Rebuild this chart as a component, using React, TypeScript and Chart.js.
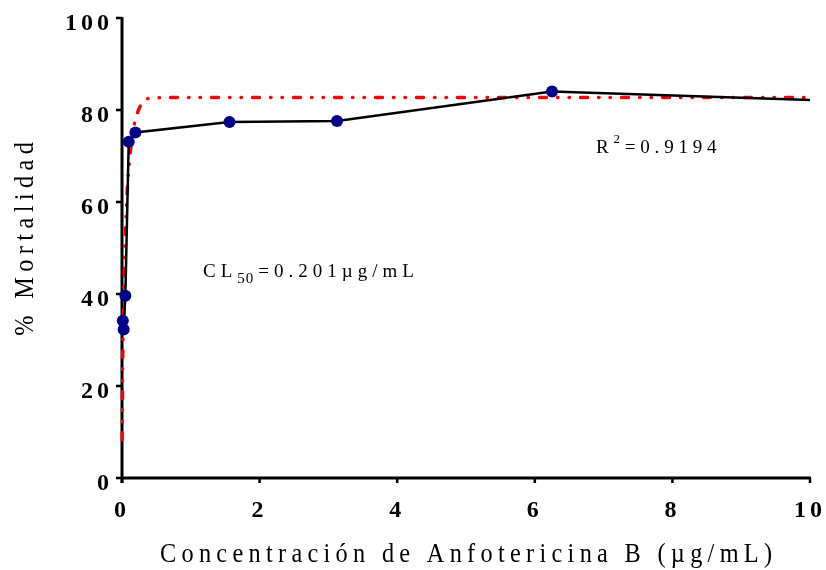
import React, { useEffect, useRef } from 'react';
import { Chart, registerables } from 'chart.js';

Chart.register(...registerables);

// Observed mortality (%) at each concentration (µg/mL)
const concentrations = [0.0122, 0.0244, 0.0488, 0.0977, 0.195, 1.5625, 3.125, 6.25, 12.5];
const mortality = [34.2, 32.3, 39.6, 73.1, 75.1, 77.4, 77.6, 84.0, 81.0];

// Fitted dose-response curve
const fitX = [0.003, 0.006, 0.01, 0.015, 0.02, 0.03, 0.048, 0.068, 0.085, 0.106, 0.14, 0.18, 0.24, 0.33, 0.45, 0.7, 2, 5, 10];
const fitY = [8.3, 16, 25, 32, 37, 44, 52, 60, 64.5, 68.5, 73.5, 77, 80, 82.2, 82.6, 82.7, 82.7, 82.7, 82.7];

const xTicks = [0, 2, 4, 6, 8, 10];
const yTicks = [0, 20, 40, 60, 80, 100];

const xTitle = 'Concentración de Anfotericina B (µg/mL)';
const yTitle = '% Mortalidad';
const lc50Parts = [
  { text: 'CL', kind: 'normal' },
  { text: '50', kind: 'sub' },
  { text: '=0.201µg/mL', kind: 'normal' },
];
const r2Parts = [
  { text: 'R', kind: 'normal' },
  { text: '2', kind: 'sup' },
  { text: '=0.9194', kind: 'normal' },
];

const SERIF = '"Liberation Serif", "Times New Roman", serif';

function drawSpaced(
  ctx: CanvasRenderingContext2D,
  text: string,
  x: number,
  y: number,
  align: 'left' | 'center' | 'right',
  spacing: number,
  sx: number = 1
) {
  const chars = Array.from(text);
  let total = 0;
  for (const ch of chars) total += ctx.measureText(ch).width * sx;
  total += spacing * Math.max(0, chars.length - 1);
  let cx = align === 'left' ? x : align === 'center' ? x - total / 2 : x - total;
  ctx.textAlign = 'left';
  for (const ch of chars) {
    ctx.save();
    ctx.translate(cx, y);
    ctx.scale(sx, 1);
    ctx.fillText(ch, 0, 0);
    ctx.restore();
    cx += ctx.measureText(ch).width * sx + spacing;
  }
}

function drawRich(
  ctx: CanvasRenderingContext2D,
  parts: { text: string; kind: string }[],
  x: number,
  y: number,
  sizes: { normal: number; small: number; subDy: number; supDy: number },
  spacing: number,
  smallSpacing: number
) {
  let cx = x;
  ctx.textBaseline = 'alphabetic';
  ctx.textAlign = 'left';
  for (const p of parts) {
    const isSmall = p.kind !== 'normal';
    const size = isSmall ? sizes.small : sizes.normal;
    const dy = p.kind === 'sub' ? sizes.subDy : p.kind === 'sup' ? sizes.supDy : 0;
    ctx.font = `${size}px ${SERIF}`;
    const chars = Array.from(p.text);
    chars.forEach((ch, i) => {
      ctx.fillText(ch, cx, y + dy);
      cx += ctx.measureText(ch).width + (isSmall && i < chars.length - 1 ? smallSpacing : spacing);
    });
  }
}

const decorPlugin = {
  id: 'decor',
  beforeDatasetsDraw(chart: any) {
    const ctx: CanvasRenderingContext2D = chart.ctx;
    const xs = chart.scales.x;
    const ys = chart.scales.y;
    const x0 = xs.getPixelForValue(0);
    const y0 = ys.getPixelForValue(0);
    ctx.save();
    ctx.strokeStyle = '#000';
    ctx.lineWidth = 3;
    ctx.lineCap = 'butt';
    ctx.beginPath();
    ctx.moveTo(x0, ys.getPixelForValue(100) - 1);
    ctx.lineTo(x0, y0 + 5);
    ctx.moveTo(x0 - 1.5, y0);
    ctx.lineTo(xs.getPixelForValue(10) + 1, y0);
    ctx.stroke();
    ctx.lineWidth = 2.5;
    ctx.beginPath();
    for (const v of yTicks) {
      const py = ys.getPixelForValue(v);
      ctx.moveTo(x0 - 6, py);
      ctx.lineTo(x0, py);
    }
    for (const v of xTicks) {
      const px = xs.getPixelForValue(v);
      ctx.moveTo(px, y0);
      ctx.lineTo(px, y0 + 5);
    }
    ctx.stroke();
    ctx.restore();
  },
  afterDraw(chart: any) {
    const ctx: CanvasRenderingContext2D = chart.ctx;
    const xs = chart.scales.x;
    const ys = chart.scales.y;
    const x0 = xs.getPixelForValue(0);
    const y0 = ys.getPixelForValue(0);
    ctx.save();
    ctx.fillStyle = '#000';
    ctx.textBaseline = 'alphabetic';
    // tick labels
    ctx.font = `bold 24px ${SERIF}`;
    for (const v of yTicks) {
      const py = ys.getPixelForValue(v);
      drawSpaced(ctx, String(v), x0 - 13, py + 11.5, 'right', 4);
    }
    for (const v of xTicks) {
      const px = xs.getPixelForValue(v);
      drawSpaced(ctx, String(v), px - 2, y0 + 38.5, 'center', 4);
    }
    // axis titles
    ctx.font = `27px ${SERIF}`;
    drawSpaced(ctx, xTitle, (xs.left + xs.right) / 2, 562, 'center', 5.3, 0.9);
    ctx.save();
    ctx.translate(33, (ys.top + ys.bottom) / 2 - 9);
    ctx.rotate(-Math.PI / 2);
    drawSpaced(ctx, yTitle, 0, 0, 'center', 5.4, 0.9);
    ctx.restore();
    // annotations
    drawRich(ctx, lc50Parts, 203, 277.3, { normal: 19, small: 15, subDy: 5.5, supDy: 0 }, 5, 1);
    drawRich(ctx, r2Parts, 596, 152.7, { normal: 19, small: 13, subDy: 0, supDy: -9.5 }, 4.8, 1);
    ctx.restore();
  },
};

export default function App() {
  const canvasRef = useRef<HTMLCanvasElement | null>(null);

  useEffect(() => {
    const canvas = canvasRef.current;
    if (!canvas) return;
    const chart = new Chart(canvas, {
      type: 'scatter',
      data: {
        datasets: [
          {
            label: 'Mortalidad',
            data: concentrations.map((c, i) => ({ x: c, y: mortality[i] })),
            showLine: true,
            borderColor: '#000000',
            borderWidth: 2.5,
            tension: 0,
            pointRadius: 6,
            pointHoverRadius: 6,
            pointBackgroundColor: '#00008b',
            pointBorderColor: '#00008b',
            pointBorderWidth: 0,
            clip: { left: 20, top: 20, bottom: 20, right: 0 },
          } as any,
          {
            label: 'Ajuste',
            data: fitX.map((c, i) => ({ x: c, y: fitY[i] })),
            showLine: true,
            borderColor: '#ff0000',
            borderWidth: 3.5,
            borderDash: [7, 11, 0.5, 11, 0.5, 11],
            borderCapStyle: 'round',
            cubicInterpolationMode: 'monotone',
            pointRadius: 0,
            pointHoverRadius: 0,
            clip: false,
          } as any,
        ],
      },
      options: {
        animation: false,
        responsive: false,
        events: [],
        layout: { padding: { left: 122, right: 16, top: 18, bottom: 92 } },
        plugins: {
          legend: { display: false },
          tooltip: { enabled: false },
        },
        scales: {
          x: { type: 'linear', min: 0, max: 10, display: false },
          y: { type: 'linear', min: 0, max: 100, display: false },
        },
      },
      plugins: [decorPlugin],
    });
    return () => chart.destroy();
  }, []);

  return (
    <div style={{ position: 'fixed', left: 0, top: 0, width: 826, height: 570, background: '#fff' }}>
      <canvas ref={canvasRef} width={826} height={570} style={{ display: 'block', width: 826, height: 570 }} />
    </div>
  );
}
